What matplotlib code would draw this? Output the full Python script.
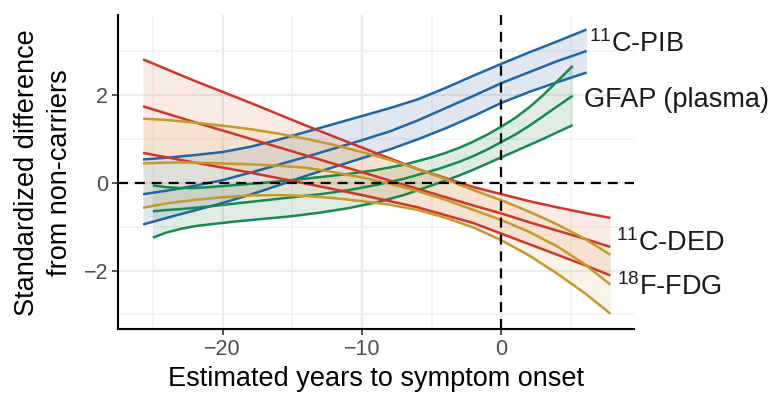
import matplotlib
matplotlib.use("Agg")
import matplotlib.pyplot as plt
from matplotlib.ticker import MultipleLocator

plt.rcParams['font.family'] = ['Liberation Sans', 'DejaVu Sans']
plt.rcParams['mathtext.fontset'] = 'custom'
plt.rcParams['mathtext.rm'] = 'Liberation Sans'
plt.rcParams['axes.unicode_minus'] = True

# ---- data ----
pib_x = [-25.7, -24, -22, -20, -18, -16, -14, -12, -10, -8, -6, -4, -2, 0, 2, 4, 6.1]
pib_hi = [0.53, 0.57, 0.63, 0.70, 0.82, 0.98, 1.16, 1.34, 1.52, 1.70, 1.90, 2.16, 2.44, 2.71, 2.97, 3.22, 3.49]
pib_mid = [-0.26, -0.18, -0.07, 0.06, 0.23, 0.41, 0.59, 0.78, 0.97, 1.17, 1.42, 1.70, 1.98, 2.27, 2.52, 2.77, 3.00]
pib_lo = [-0.95, -0.80, -0.63, -0.46, -0.27, -0.06, 0.16, 0.36, 0.56, 0.76, 0.99, 1.24, 1.52, 1.82, 2.07, 2.29, 2.51]

gfap_x = [-25, -24, -23, -22, -21, -19, -17, -15, -13, -11, -9, -7, -5, -4, -3, -2, -1, 0, 1, 2, 3, 4, 5.1]
gfap_hi = [-0.06, -0.10, -0.12, -0.12, -0.10, -0.05, 0.0, 0.06, 0.13, 0.20, 0.29, 0.41, 0.58, 0.68, 0.80, 0.94,
           1.10, 1.28, 1.48, 1.72, 2.00, 2.31, 2.66]
gfap_mid = [-0.65, -0.62, -0.60, -0.57, -0.54, -0.47, -0.40, -0.33, -0.26, -0.17, -0.05, 0.09, 0.27, 0.37, 0.48,
            0.61, 0.76, 0.93, 1.10, 1.30, 1.52, 1.74, 1.98]
gfap_lo = [-1.25, -1.13, -1.05, -0.99, -0.95, -0.88, -0.82, -0.76, -0.68, -0.58, -0.45, -0.28, -0.06, 0.05, 0.17,
           0.30, 0.44, 0.58, 0.72, 0.86, 1.00, 1.15, 1.31]

ded_x = [-25.7, -22, -18, -14, -10, -6, -2, 0, 2, 4, 6, 7.8]
ded_hi = [2.81, 2.32, 1.82, 1.30, 0.80, 0.31, -0.10, -0.26, -0.42, -0.56, -0.69, -0.80]
ded_mid = [1.74, 1.38, 1.00, 0.62, 0.24, -0.14, -0.52, -0.70, -0.90, -1.09, -1.28, -1.46]
ded_lo = [0.68, 0.46, 0.23, -0.02, -0.28, -0.56, -0.92, -1.16, -1.40, -1.64, -1.88, -2.11]

fdg_x = [-25.7, -24, -22, -20, -18, -16, -14, -12, -10, -8, -6, -4, -2, 0, 2, 4, 6, 7.8]
fdg_hi = [1.46, 1.43, 1.37, 1.30, 1.22, 1.12, 1.00, 0.86, 0.70, 0.52, 0.31, 0.08, -0.17, -0.40, -0.66, -0.95,
          -1.28, -1.64]
fdg_mid = [0.44, 0.46, 0.46, 0.44, 0.42, 0.39, 0.34, 0.24, 0.12, -0.02, -0.19, -0.39, -0.62, -0.85, -1.12, -1.45,
           -1.86, -2.32]
fdg_lo = [-0.57, -0.47, -0.39, -0.33, -0.29, -0.28, -0.30, -0.35, -0.42, -0.50, -0.62, -0.80, -1.02, -1.31, -1.66,
          -2.07, -2.52, -2.98]

labels = [r'$\mathregular{^{11}}$C-PIB', 'GFAP (plasma)', r'$\mathregular{^{11}}$C-DED', r'$\mathregular{^{18}}$F-FDG']
label_pos = [(6.3, 3.15), (5.9, 1.88), (8.2, -1.38), (8.3, -2.37)]

x_ticks = [-20, -10, 0]
y_ticks = [-2, 0, 2]

# ---- plot ----
fig = plt.figure(figsize=(7.76, 3.95), dpi=100)
ax = fig.add_axes([0.152, 0.166, 0.665, 0.796])

series = [
    (pib_x, pib_lo, pib_mid, pib_hi, '#1F66A3', '#3A5FA0'),
    (gfap_x, gfap_lo, gfap_mid, gfap_hi, '#168A4E', '#2E7A45'),
    (ded_x, ded_lo, ded_mid, ded_hi, '#D0352A', '#E0774A'),
    (fdg_x, fdg_lo, fdg_mid, fdg_hi, '#C39A2C', '#D9B660'),
]

for xs, lo, mid, hi, lc, fc in series:
    ax.fill_between(xs, lo, hi, color=fc, alpha=0.15, lw=0, zorder=2)
for xs, lo, mid, hi, lc, fc in series:
    for ys in (lo, mid, hi):
        ax.plot(xs, ys, color=lc, lw=1.8, zorder=3, solid_capstyle='butt', solid_joinstyle='round')

ax.axhline(0, color='black', lw=1.6, dashes=(4.5, 3.1), zorder=4)
ax.axvline(0, color='black', lw=1.6, dashes=(4.5, 3.1), zorder=4)

ax.set_xlim(-27.5, 9.5)
ax.set_ylim(-3.34, 3.82)
ax.set_xticks(x_ticks)
ax.set_yticks(y_ticks)
ax.xaxis.set_minor_locator(MultipleLocator(5))
ax.yaxis.set_minor_locator(MultipleLocator(1))
ax.grid(which='major', color='#EBEBEB', lw=1.6, zorder=0)
ax.grid(which='minor', color='#F1F1F1', lw=1.1, zorder=0)
ax.set_axisbelow(True)
ax.tick_params(which='minor', length=0)
ax.tick_params(which='major', length=4, width=1.2, color='#333333', labelsize=15.5,
               labelcolor='#4D4D4D', pad=3)

for s in ('top', 'right'):
    ax.spines[s].set_visible(False)
for s in ('left', 'bottom'):
    ax.spines[s].set_linewidth(1.5)
    ax.spines[s].set_color('black')

ax.set_xlabel('Estimated years to symptom onset', fontsize=19.5, labelpad=4)
ax.set_ylabel('Standardized difference\nfrom non-carriers', fontsize=19.5, labelpad=8,
              linespacing=1.35)

for txt, (lx, ly) in zip(labels, label_pos):
    ax.text(lx, ly, txt, fontsize=19.5, ha='left', va='center', clip_on=False, color='#1A1A1A')

fig.savefig('out.png', dpi=100)
